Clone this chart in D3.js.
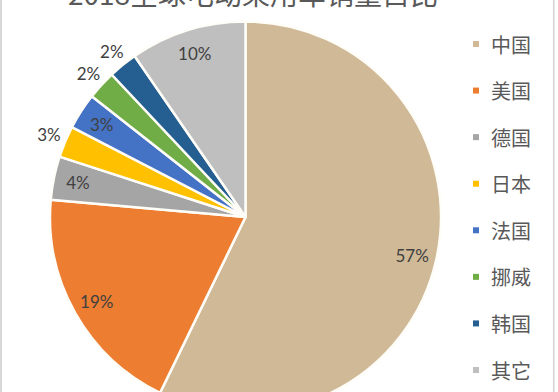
<!DOCTYPE html>
<html><head><meta charset="utf-8">
<script src="https://cdn.jsdelivr.net/npm/d3@7"></script>
<style>html,body{margin:0;padding:0;background:#fff;}svg{display:block;}</style>
</head><body>
<svg id="c" width="558" height="392"></svg>
<script>
const title = "2018全球电动乘用车销量占比";
const categories = ["中国","美国","德国","日本","法国","挪威","韩国","其它"];
const values = [57.2, 19.2, 3.6, 2.6, 3.0, 2.4, 2.4, 9.6];
const labels = ["57%","19%","4%","3%","3%","2%","2%","10%"];
const outsideLabels = ["日本","挪威","韩国"];
const colors = ["#CFB997","#ED7D31","#A5A5A5","#FFC000","#4472C4","#70AD47","#255E91","#BFBFBF"];

const svg = d3.select("#c");
svg.append("rect").attr("x",0).attr("y",0).attr("width",2).attr("height",392).attr("fill","#d8d8d8");
svg.append("rect").attr("x",553).attr("y",0).attr("width",1.5).attr("height",392).attr("fill","#d4d4d4");

svg.append("text").attr("x",253).attr("y",5).attr("text-anchor","middle")
  .attr("font-family","'Noto Sans CJK SC', sans-serif").attr("font-size",28).attr("fill","#595959")
  .text(title);

const cx = 245.5, cy = 217, r = 195.5;
const data = categories.map((c,i)=>({cat:c, value:values[i], label:labels[i], color:colors[i]}));
const pie = d3.pie().value(d=>d.value).sort(null);
const arcs = pie(data);
const arc = d3.arc().innerRadius(0).outerRadius(r);
const g = svg.append("g").attr("transform",`translate(${cx},${cy})`);
g.selectAll("path").data(arcs).join("path")
  .attr("d",arc).attr("fill",d=>d.data.color)
  .attr("stroke","#fffdf8").attr("stroke-width",2.5).attr("stroke-linejoin","round");

const inArc = d3.arc().innerRadius(171).outerRadius(171);
const outArc = d3.arc().innerRadius(213).outerRadius(213);
g.selectAll("text.lbl").data(arcs).join("text").attr("class","lbl")
  .attr("transform",d=>{const p=(outsideLabels.includes(d.data.cat)?outArc:inArc).centroid(d);return `translate(${p[0]},${p[1]})`;})
  .attr("text-anchor","middle").attr("dominant-baseline","central")
  .attr("font-family","Lato, 'Open Sans', sans-serif").attr("font-size",17).attr("fill","#404040")
  .text(d=>d.data.label);

const legY = d3.scalePoint().domain(categories).range([44, 370]);
const leg = svg.append("g");
const items = leg.selectAll("g").data(data).join("g")
  .attr("transform",d=>`translate(473,${legY(d.cat)})`);
items.append("rect").attr("x",0).attr("y",-3).attr("width",6).attr("height",6).attr("fill",d=>d.color);
items.append("text").attr("x",18).attr("y",0).attr("dominant-baseline","central")
  .attr("font-family","'Noto Sans CJK SC', sans-serif").attr("font-size",20).attr("fill","#595959")
  .text(d=>d.cat);
</script>
</body></html>
